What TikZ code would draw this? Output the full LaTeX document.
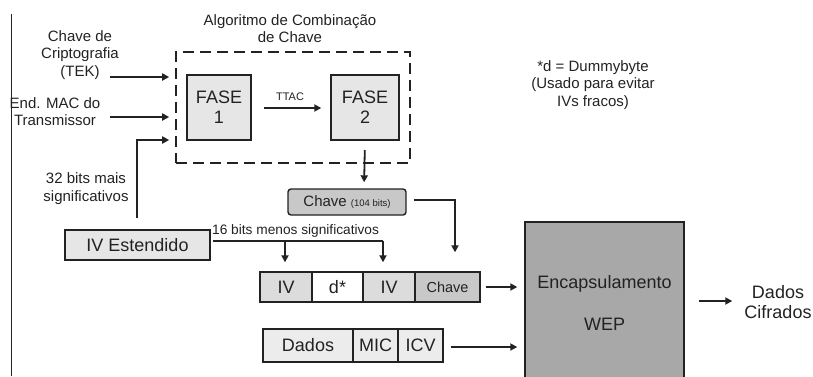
\documentclass[tikz,border=0pt]{standalone}
\usepackage{fontspec}
\setmainfont{Liberation Sans}
\usetikzlibrary{arrows.meta}
\definecolor{txt}{HTML}{222222}
\definecolor{lgray}{HTML}{E6E6E6}
\definecolor{mgray}{HTML}{C8C8C8}
\definecolor{cellgray}{HTML}{DCDCDC}
\definecolor{rowgray}{HTML}{ECECEC}
\definecolor{wepgray}{HTML}{A8A8A8}
\tikzset{
  lbl/.style={text=txt, inner sep=0pt, align=center},
  f15/.style={font=\fontsize{15}{17.5}\selectfont},
  f18/.style={font=\fontsize{18}{20}\selectfont},
  boxA/.style={draw=txt, line width=1.4pt, inner sep=0pt, text=txt, align=center},
  arr/.style={draw=txt, line width=1.8pt, -{Triangle[length=7pt,width=7pt]}},
  ln/.style={draw=txt, line width=1.8pt},
}
\begin{document}
\begin{tikzpicture}[x=1pt,y=-1pt]
\useasboundingbox (0,0) rectangle (813,376);
% page edge line
\coordinate (edgeT) at (11,14);
\coordinate (edgeB) at (11,376);
\draw[txt, line width=1pt] (edgeT) -- (edgeB);

% key mixing algorithm
\node[lbl,f15] (alg) at (290,28.5) {Algoritmo de Combinação\\de Chave};
\node[draw=txt, line width=1.6pt, dash pattern=on 11pt off 6pt, minimum width=234pt, minimum height=111pt, inner sep=0pt] (dash) at (293,107.5) {};
\node[boxA, fill=lgray, minimum width=64pt, minimum height=65pt, f18] (f1) at (219,107.5) {FASE\\1};
\node[boxA, fill=lgray, minimum width=68pt, minimum height=65pt, f18] (f2) at (365,107.5) {FASE\\2};
\node[lbl, font=\fontsize{11}{13}\selectfont] (ttac) at (290,97) {TTAC};
\draw[arr, shorten <=12pt, shorten >=9pt] (f1.east |- 0,108) -- (f2.west |- 0,108);

% inputs
\node[lbl,f15] (tek) at (80,55) {Chave de\\Criptografia\\(TEK)};
\node[lbl,f15] (mac) at (55,111.5) {End. MAC do\\Transmissor};
\node[lbl,f15] (msb) at (86,188.5) {32 bits mais\\significativos};
\coordinate (tekA) at (110,77);
\coordinate (macA) at (110,117);
\coordinate (msbA) at (137,218);
\draw[arr, shorten >=6pt] (tekA) -- (tekA -| dash.west);
\draw[arr, shorten >=6pt] (macA) -- (macA -| dash.west);
\draw[arr, shorten >=6pt] (msbA) |- (dash.west |- 0,140);

% Chave (104 bits)
\node[boxA, fill=mgray, rounded corners=3pt, minimum width=118pt, minimum height=26pt] (chv) at (347,202) {\fontsize{15}{17}\selectfont Chave \fontsize{9.5}{11}\selectfont(104 bits)};
\draw[arr, shorten <=10pt, shorten >=6pt] (f2.south |- 0,140) -- (chv.north -| 364,0);

% IV Estendido
\node[boxA, fill=lgray, minimum width=145pt, minimum height=30pt, f18] (ive) at (137.5,245) {IV Estendido};
\node[lbl, font=\fontsize{13.7}{16}\selectfont, anchor=south west] (lsb) at (212,238) {16 bits menos significativos};

% row IV d IV Chave
\node[boxA, fill=cellgray, minimum width=52pt, minimum height=30pt, f18] (iv1) at (286,287) {IV};
\node[boxA, fill=white, minimum width=51pt, minimum height=30pt, f18] (dd) at (337.5,287) {d*};
\node[boxA, fill=cellgray, minimum width=52pt, minimum height=30pt, f18] (iv2) at (389,287) {IV};
\node[boxA, fill=mgray, minimum width=65pt, minimum height=30pt, font=\fontsize{14.5}{16}\selectfont] (chc) at (447.5,287) {Chave};

\coordinate (lsbA) at (213,241);
\coordinate (lsbB) at (383,241);
\coordinate (lsbM) at (285,241);
\draw[ln] (lsbA) -- (lsbB);
\draw[arr, shorten >=9pt] (lsbM) -- (lsbM |- iv1.north);
\draw[arr, shorten >=9pt] (lsbB) -- (lsbB |- iv2.north);

\coordinate (chvR) at (455,200);
\draw[arr, shorten <=7pt, shorten >=19pt] (chv.east |- chvR) -| (chvR |- chc.north);

% row Dados MIC ICV
\node[boxA, fill=rowgray, minimum width=90pt, minimum height=33pt, f18] (dados) at (308,345.5) {Dados};
\node[boxA, fill=rowgray, minimum width=45pt, minimum height=33pt, f18] (mic) at (375.5,345.5) {MIC};
\node[boxA, fill=rowgray, minimum width=45pt, minimum height=33pt, f18] (icv) at (420.5,345.5) {ICV};

% WEP
\node[boxA, fill=wepgray, minimum width=159pt, minimum height=160pt] (wep) at (604.5,302) {};
\node[lbl,f18] (enc) at (604.5,284) {Encapsulamento};
\node[lbl,f18] (wepl) at (604.5,324) {WEP};
\draw[arr, shorten <=5pt, shorten >=7pt] (chc.east) -- (wep.west |- chc.east);
\draw[arr, shorten <=7pt, shorten >=7pt] (icv.east |- 0,347) -- (wep.west |- 0,347);

% output
\node[lbl,f18] (out) at (778,302) {Dados\\Cifrados};
\draw[arr, shorten <=14pt, shorten >=12pt] (wep.east |- 0,301) -- (out.west |- 0,301);

% note
\node[lbl,f15] (note) at (593,85) {*d = Dummybyte\\(Usado para evitar\\IVs fracos)};
\end{tikzpicture}
\end{document}
